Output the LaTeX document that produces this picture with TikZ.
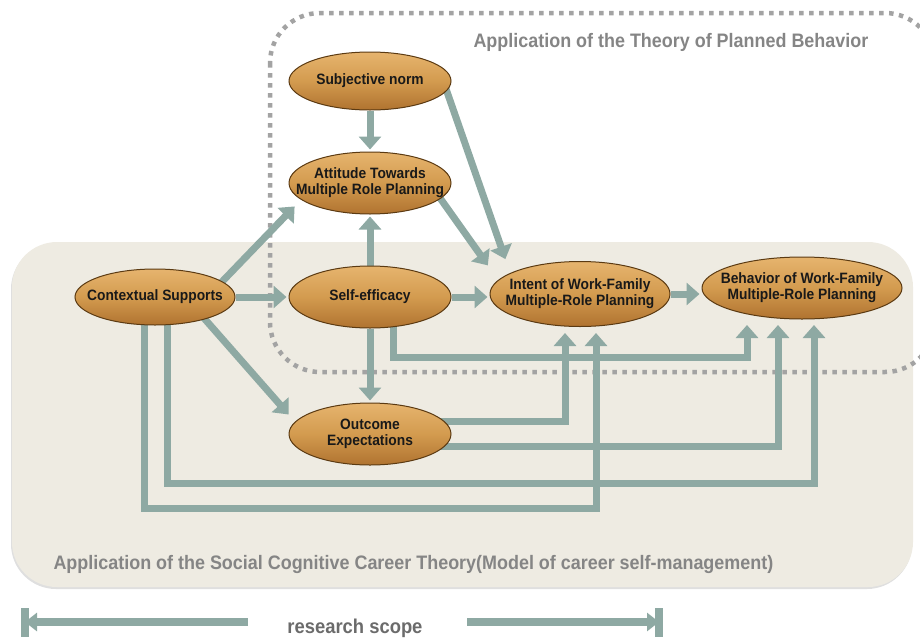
\documentclass[tikz,border=0pt]{standalone}
\usepackage{fontspec}
\setmainfont{Liberation Sans}[FakeStretch=0.92]
\usetikzlibrary{arrows.meta,shapes.geometric,calc,shadows}
\pgfdeclarelayer{back}
\pgfdeclarelayer{mid}
\pgfsetlayers{back,mid,main}
\definecolor{pathgreen}{HTML}{8EA9A3}
\definecolor{boxbeige}{HTML}{EEEBE2}
\definecolor{dotgray}{HTML}{A3A3A3}
\definecolor{labelgray}{HTML}{858585}
\definecolor{blobtop}{HTML}{E6B46E}
\definecolor{blobmid}{HTML}{D39B4F}
\definecolor{blobbot}{HTML}{B07330}
\definecolor{blobrim}{HTML}{5B3A12}

\begin{document}
\begin{tikzpicture}[x=1pt,y=-1pt,
        >={Triangle[width=22pt,length=13pt]},
        blob/.style={ellipse, draw=blobrim, line width=1pt, top color=blobtop, bottom color=blobbot, middle color=blobmid,
            inner sep=0pt, minimum width=162pt, minimum height=62pt},
        txt/.style={font=\bfseries\fontsize{15}{16}\selectfont, align=center, text=black!90},
        link/.style={pathgreen, line width=7pt, ->, shorten >=2pt},
        frame/.style={font=\bfseries\fontsize{19.5}{22}\selectfont, text=labelgray}]
    \useasboundingbox (0,0) rectangle (920,640);

    % the two theory areas
    \begin{pgfonlayer}{back}
        \fill[boxbeige, rounded corners=45pt, drop shadow={shadow xshift=-1pt, shadow yshift=-2pt, opacity=0.25}] (12,242) rectangle (913,587);
        \draw[dotgray, line width=4.5pt, dash pattern=on 4.5pt off 5.5pt, rounded corners=50pt] (270,13) rectangle (935,372);
    \end{pgfonlayer}
    \node[frame, anchor=west] (tpb) at (470,42) {Application of the Theory of Planned Behavior};
    \node[frame, anchor=west] (scct) at (50,564) {Application of the Social Cognitive Career Theory(Model of career self-management)};

    % constructs
    \node[blob, minimum height=58pt, label={[txt]center:Subjective norm}] (subj) at (370,81) {};
    \node[blob, label={[txt]center:{Attitude Towards\\Multiple Role Planning}}] (att) at (370,183) {};
    \node[blob, minimum width=160pt, minimum height=56pt, label={[txt]center:Contextual Supports}] (ctx) at (155,297) {};
    \node[blob, label={[txt]center:Self-efficacy}] (self) at (370,297) {};
    \node[blob, label={[txt]center:{Outcome\\Expectations}}] (out) at (370,434) {};
    \node[blob, minimum width=180pt, minimum height=65pt, label={[txt]center:{Intent of Work-Family\\Multiple-Role Planning}}] (intent) at (580,294) {};
    \node[blob, minimum width=200pt, minimum height=62pt, label={[txt]center:{Behavior of Work-Family\\Multiple-Role Planning}}] (beh) at (802,288) {};

    % paths
    \begin{pgfonlayer}{mid}
        \draw[link] (subj) -- (att);
        \draw[link] ($(subj)+(75,5)$) -- ($(intent)+(-74,-33)$);
        \draw[link] ($(att)+(70,15)$) -- ($(intent)+(-91,-27)$);
        \draw[link] (self) -- (att);
        \draw[link] ($(ctx)+(60,-8)$) -- ($(att)+(-74,22)$);
        \draw[link] (ctx) -- (self);
        \draw[link] ($(ctx)+(48,20)$) -- ($(out)+(-80,-18)$);
        \draw[link] (self) -- (self -| intent.west);
        \draw[link] (intent.east) -- (intent.east -| beh.west);
        \draw[link] (self) -- (out);
        \draw[link] ($(self)+(23,20)$) -- ++(0,40) -| ($(beh)+(-55,35)$);
        \draw[link] ($(out)+(70,-13)$) -| ($(intent)+(-15,37)$);
        \draw[link] ($(out)+(70,12)$) -| ($(beh)+(-24,35)$);
        \draw[link] ($(ctx)+(12,20)$) -- ++(0,166) -| ($(beh)+(12,35)$);
        \draw[link] ($(ctx)+(-11,20)$) -- ++(0,191) -| ($(intent)+(16,37)$);
    \end{pgfonlayer}

    % scope
    \node[font=\bfseries\fontsize{20}{22}\selectfont, text=black!58] (scope) at (355,628) {research scope};
    \coordinate (lend) at (25,622);
    \coordinate (rend) at (659,622);
    \draw[pathgreen, line width=8pt] ($(lend)+(0,-14)$) -- ($(lend)+(0,15)$);
    \draw[pathgreen, line width=8pt] ($(rend)+(0,-14)$) -- ($(rend)+(0,15)$);
    \draw[pathgreen, line width=8pt, >={Triangle[width=18pt,length=12pt]}, ->] (248,622) -- (lend);
    \draw[pathgreen, line width=8pt, >={Triangle[width=18pt,length=12pt]}, ->] (467,622) -- (rend);
\end{tikzpicture}
\end{document}
